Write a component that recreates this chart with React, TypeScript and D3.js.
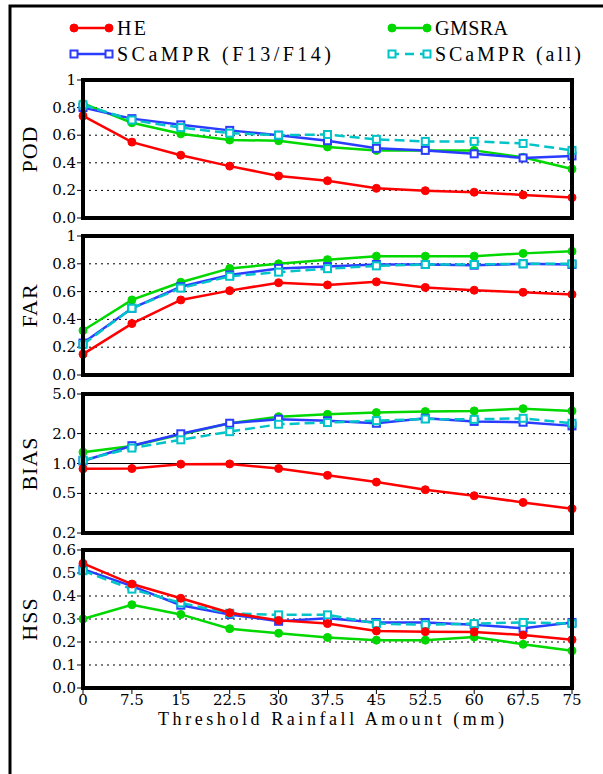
import * as d3 from "d3"
import React from "react"

// thresholds (mm)
const thresholds = [0, 7.5, 15, 22.5, 30, 37.5, 45, 52.5, 60, 67.5, 75]
const xTickLabels = ["0", "7.5", "15", "22.5", "30", "37.5", "45", "52.5", "60", "67.5", "75"]

const seriesNames = ["HE", "GMSRA", "SCaMPR (F13/F14)", "SCaMPR (all)"]

const podHE = [0.74, 0.55, 0.455, 0.376, 0.305, 0.27, 0.215, 0.198, 0.187, 0.167, 0.148]
const podGMSRA = [0.83, 0.69, 0.61, 0.565, 0.56, 0.515, 0.49, 0.49, 0.49, 0.44, 0.355]
const podF1314 = [0.8, 0.72, 0.675, 0.635, 0.6, 0.56, 0.505, 0.49, 0.465, 0.435, 0.45]
const podAll = [0.82, 0.71, 0.655, 0.615, 0.6, 0.605, 0.57, 0.555, 0.555, 0.54, 0.49]

const farHE = [0.15, 0.37, 0.54, 0.607, 0.664, 0.648, 0.67, 0.63, 0.61, 0.595, 0.58]
const farGMSRA = [0.32, 0.54, 0.667, 0.767, 0.8, 0.83, 0.855, 0.855, 0.855, 0.875, 0.89]
const farF1314 = [0.23, 0.48, 0.635, 0.72, 0.767, 0.78, 0.795, 0.795, 0.79, 0.8, 0.795]
const farAll = [0.22, 0.48, 0.625, 0.71, 0.74, 0.765, 0.785, 0.795, 0.795, 0.8, 0.8]

const biasHE = [0.884, 0.89, 0.985, 0.99, 0.89, 0.76, 0.65, 0.545, 0.474, 0.406, 0.351]
const biasGMSRA = [1.3, 1.5, 1.96, 2.54, 2.96, 3.12, 3.25, 3.33, 3.38, 3.56, 3.38]
const biasF1314 = [1.06, 1.51, 1.99, 2.54, 2.79, 2.69, 2.54, 2.85, 2.65, 2.6, 2.39]
const biasAll = [1.08, 1.43, 1.73, 2.09, 2.48, 2.58, 2.7, 2.8, 2.78, 2.85, 2.54]

const hssHE = [0.542, 0.452, 0.39, 0.327, 0.294, 0.28, 0.248, 0.245, 0.244, 0.23, 0.21]
const hssGMSRA = [0.3, 0.362, 0.32, 0.258, 0.238, 0.22, 0.208, 0.208, 0.222, 0.19, 0.162]
const hssF1314 = [0.517, 0.443, 0.36, 0.32, 0.29, 0.303, 0.285, 0.285, 0.275, 0.26, 0.285]
const hssAll = [0.51, 0.43, 0.37, 0.325, 0.318, 0.318, 0.28, 0.275, 0.28, 0.285, 0.28]

const podTicks = [0, 0.2, 0.4, 0.6, 0.8, 1]
const podTickLabels = ["0.0", "0.2", "0.4", "0.6", "0.8", "1"]
const biasTicks = [0.2, 0.5, 1, 2, 5]
const biasTickLabels = ["0.2", "0.5", "1.0", "2.0", "5.0"]
const hssTicks = [0, 0.1, 0.2, 0.3, 0.4, 0.5, 0.6]
const hssTickLabels = ["0.0", "0.1", "0.2", "0.3", "0.4", "0.5", "0.6"]

const colors = ["#ff0000", "#00d800", "#2a3cff", "#00c4c8"]
const FONT = "'DejaVu Serif', serif"
const TFONT = "'Liberation Serif', serif"

const W = 603
const H = 774
const xLeft = 83
const xRight = 572

const panels = [
  { label: "POD", top: 80, bottom: 218, log: false, domain: [0, 1], ticks: podTicks, tickLabels: podTickLabels, data: [podHE, podGMSRA, podF1314, podAll], solid: [] as number[] },
  { label: "FAR", top: 236, bottom: 375, log: false, domain: [0, 1], ticks: podTicks, tickLabels: podTickLabels, data: [farHE, farGMSRA, farF1314, farAll], solid: [] as number[] },
  { label: "BIAS", top: 394, bottom: 533, log: true, domain: [0.2, 5], ticks: biasTicks, tickLabels: biasTickLabels, data: [biasHE, biasGMSRA, biasF1314, biasAll], solid: [1] },
  { label: "HSS", top: 550, bottom: 688, log: false, domain: [0, 0.6], ticks: hssTicks, tickLabels: hssTickLabels, data: [hssHE, hssGMSRA, hssF1314, hssAll], solid: [] as number[] },
]

// draw order: green, blue, cyan, red on top
const drawOrder = [1, 2, 3, 0]

const Marker = ({ i, x, y }: { i: number; x: number; y: number }) => {
  if (i < 2) return <circle cx={x} cy={y} r={4} fill={colors[i]} stroke={colors[i]} />
  return <rect x={x - 3.5} y={y - 3.5} width={7} height={7} fill="#ffffff" stroke={colors[i]} strokeWidth={2} />
}

export default function App() {
  const xScale = d3.scaleLinear().domain([0, 75]).range([xLeft, xRight])
  const legendRows = [
    { i: 0, x: 72, y: 28, len: 29 },
    { i: 1, x: 390, y: 28, len: 73 },
    { i: 2, x: 72, y: 54, len: 214 },
    { i: 3, x: 390, y: 54, len: 146 },
  ]
  return (
    <svg width={W} height={H} style={{ position: "absolute", left: 0, top: 0, background: "#fff" }}>
      <rect width={W} height={H} fill="#fff" />
      <path d={`M10,${H} L10,6 L${W},6`} fill="none" stroke="#000" strokeWidth={3} />

      {legendRows.map(l => (
        <g key={l.i}>
          <line x1={l.x} x2={l.x + 39} y1={l.y} y2={l.y} stroke={colors[l.i]} strokeWidth={2.5} strokeDasharray={l.i === 3 ? "9,6" : undefined} />
          <Marker i={l.i} x={l.x + 2} y={l.y} />
          <Marker i={l.i} x={l.x + 37} y={l.y} />
          <text x={l.x + 45} y={l.y + 7} fontFamily={TFONT} fontSize={20} textLength={l.len} lengthAdjust="spacing" fill="#000">{seriesNames[l.i]}</text>
        </g>
      ))}

      {panels.map(p => {
        const yScale = p.log
          ? d3.scaleLog().domain(p.domain).range([p.bottom, p.top])
          : d3.scaleLinear().domain(p.domain).range([p.bottom, p.top])
        const line = d3.line<number>().x((_, k) => xScale(thresholds[k])).y(v => yScale(v))
        return (
          <g key={p.label}>
            {p.ticks.map((t, k) => {
              const y = yScale(t)
              const isEdge = Math.abs(y - p.top) < 1 || Math.abs(y - p.bottom) < 1
              return (
                <g key={k}>
                  {!isEdge && (
                    <line x1={xLeft} x2={xRight} y1={y} y2={y} stroke="#000"
                      strokeWidth={p.solid.includes(t) ? 1.2 : 1}
                      strokeDasharray={p.solid.includes(t) ? undefined : "2,4"} />
                  )}
                  <line x1={xLeft - 6} x2={xLeft} y1={y} y2={y} stroke="#000" strokeWidth={1} />
                  <text x={xLeft - 7} y={y + 5} textAnchor="end" fontFamily={FONT} fontSize={15} fill="#000">{p.tickLabels[k]}</text>
                </g>
              )
            })}
            {drawOrder.map(i => (
              <g key={i}>
                <path d={line(p.data[i]) || ""} fill="none" stroke={colors[i]} strokeWidth={2.5}
                  strokeDasharray={i === 3 ? "10,5" : undefined} />
                {p.data[i].map((v, k) => <Marker key={k} i={i} x={xScale(thresholds[k])} y={yScale(v)} />)}
              </g>
            ))}
            <rect x={xLeft} y={p.top} width={xRight - xLeft} height={p.bottom - p.top} fill="none" stroke="#000" strokeWidth={4} />
            <text transform={`translate(37,${(p.top + p.bottom) / 2}) rotate(-90)`} textAnchor="middle"
              fontFamily={TFONT} fontSize={22} letterSpacing={1} fill="#000">{p.label}</text>
          </g>
        )
      })}

      {thresholds.map((t, k) => (
        <g key={k}>
          <line x1={xScale(t)} x2={xScale(t)} y1={688} y2={694} stroke="#000" strokeWidth={1} />
          <text x={xScale(t)} y={705} textAnchor="middle" fontFamily={FONT} fontSize={15} fill="#000">{xTickLabels[k]}</text>
        </g>
      ))}
      <text x={158} y={725} fontFamily={TFONT} fontSize={18} textLength={346} lengthAdjust="spacing" fill="#000">
        Threshold Rainfall Amount (mm)
      </text>
    </svg>
  )
}
